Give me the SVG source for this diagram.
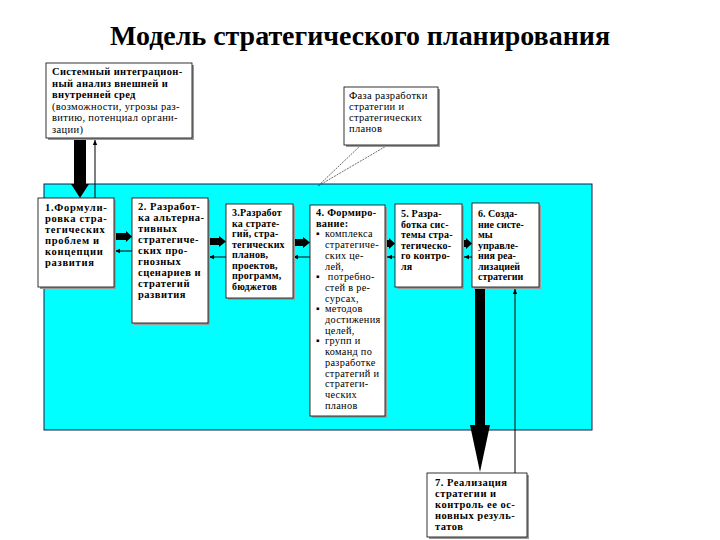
<svg xmlns="http://www.w3.org/2000/svg" width="720" height="540" viewBox="0 0 720 540">
<style>
.t{font-family:"Liberation Serif","DejaVu Serif",serif;font-size:10.5px;fill:#000}
.b{font-weight:bold}
.box{fill:#fff;stroke:#000;stroke-width:0.8}
.sh{fill:#9a9a9a}
.thick{fill:#000}
.thin{stroke:#000;stroke-width:1;fill:none}
.ttl{font-family:"Liberation Serif","DejaVu Serif",serif;font-size:27px;font-weight:bold}
</style>
<defs>
<marker id="ah" markerWidth="6" markerHeight="6" refX="5" refY="3" orient="auto" markerUnits="userSpaceOnUse">
<path d="M0,0.8 L5,3 L0,5.2 Z" fill="#000"/>
</marker>
</defs>
<rect width="720" height="540" fill="#fff"/>
<text class="ttl" x="360" y="45" text-anchor="middle" textLength="500" lengthAdjust="spacingAndGlyphs">Модель стратегического планирования</text>

<rect id="field" x="44" y="184" width="548" height="246" fill="#00FFFF" stroke="#1a1a4a" stroke-width="1"/>

<g id="connectors">
<rect class="thick" x="74" y="138" width="12" height="47"/>
<path class="thick" d="M71,184 L89,184 L80,198 Z"/>
<line class="thin" x1="95" y1="198" x2="95" y2="140" marker-end="url(#ah)"/>
<polyline points="361,145 318,186 388,145" fill="none" stroke="#444" stroke-width="0.8" stroke-dasharray="2,1"/>
<path class="thick" d="M113,233 L126,233 L126,231 L132,236.5 L126,242 L126,240 L113,240 Z"/>
<path class="thick" d="M208,238 L219,238 L219,236 L226,241.5 L219,247 L219,245 L208,245 Z"/>
<path class="thick" d="M292,239 L303,239 L303,237 L310,242.5 L303,248 L303,246 L292,246 Z"/>
<path class="thick" d="M386,240 L389,240 L389,238 L395,243.5 L389,249 L389,247 L386,247 Z"/>
<path class="thick" d="M463,240 L466,240 L466,238 L472,243.5 L466,249 L466,247 L463,247 Z"/>
<line class="thin" x1="132" y1="251" x2="115" y2="251" marker-end="url(#ah)"/>
<line class="thin" x1="226" y1="257" x2="209" y2="257" marker-end="url(#ah)"/>
<line class="thin" x1="310" y1="257" x2="293" y2="257" marker-end="url(#ah)"/>
<line class="thin" x1="395" y1="257" x2="387" y2="257" marker-end="url(#ah)"/>
<line class="thin" x1="472" y1="257" x2="464" y2="257" marker-end="url(#ah)"/>
<rect class="thick" x="475" y="287" width="10" height="139"/>
<path class="thick" d="M470,425 L490,425 L480,472 Z"/>
<line class="thin" x1="515" y1="473" x2="515" y2="289" marker-end="url(#ah)"/>
</g>

<g id="n0">
<rect class="sh" x="48" y="65" width="146" height="75"/>
<rect class="box" x="46" y="63" width="146" height="75"/>
<text class="t" style="font-size:10.5px;letter-spacing:0.35px"><tspan class="b" x="52" y="75">Системный  интеграцион-</tspan><tspan class="b" x="52" y="86.5">ный анализ  внешней и</tspan><tspan class="b" x="52" y="98">внутренней сред</tspan><tspan x="52" y="109.5">(возможности, угрозы раз-</tspan><tspan x="52" y="121">витию, потенциал органи-</tspan><tspan x="52" y="132.5">зации)</tspan></text>
</g>

<g id="callout">
<rect class="sh" x="346" y="89" width="94" height="58"/>
<rect class="box" x="344" y="87" width="94" height="58"/>
<text class="t" style="font-size:10.5px;letter-spacing:0.3px"><tspan x="349" y="99">Фаза разработки</tspan><tspan x="349" y="110">стратегии и</tspan><tspan x="349" y="121">стратегических</tspan><tspan x="349" y="132">планов</tspan></text>
</g>

<g id="n1">
<rect class="sh" x="40" y="200" width="76" height="89"/>
<rect class="box" x="38" y="198" width="76" height="89"/>
<text class="t b" style="font-size:10.5px;letter-spacing:0.7px"><tspan x="45" y="211">1.Формули-</tspan><tspan x="45" y="222">ровка стра-</tspan><tspan x="45" y="233">тегических</tspan><tspan x="45" y="244">проблем и</tspan><tspan x="45" y="255">концепции</tspan><tspan x="45" y="266">развития</tspan></text>
</g>

<g id="n2">
<rect class="sh" x="134" y="200" width="76" height="125"/>
<rect class="box" x="132" y="198" width="76" height="125"/>
<text class="t b" style="font-size:10.5px;letter-spacing:0.5px"><tspan x="138" y="210">2. Разработ-</tspan><tspan x="138" y="221">ка альтерна-</tspan><tspan x="138" y="232">тивных</tspan><tspan x="138" y="243">стратегиче-</tspan><tspan x="138" y="254">ских про-</tspan><tspan x="138" y="265">гнозных</tspan><tspan x="138" y="276">сценариев и</tspan><tspan x="138" y="287">стратегий</tspan><tspan x="138" y="298">развития</tspan></text>
</g>

<g id="n3">
<rect class="sh" x="228" y="206" width="67" height="94"/>
<rect class="box" x="226" y="204" width="67" height="94"/>
<text class="t b" style="font-size:10px;letter-spacing:0.2px"><tspan x="232" y="216">3.Разработ</tspan><tspan x="232" y="226.5">ка  страте-</tspan><tspan x="232" y="237">гий, стра-</tspan><tspan x="232" y="247.5">тегических</tspan><tspan x="232" y="258">планов,</tspan><tspan x="232" y="268.5">проектов,</tspan><tspan x="232" y="279">программ,</tspan><tspan x="232" y="289.5">бюджетов</tspan></text>
</g>

<g id="n4">
<rect class="sh" x="312" y="207" width="75" height="211"/>
<rect class="box" x="310" y="205" width="75" height="211"/>
<text class="t" style="font-size:10.3px;letter-spacing:0.3px"><tspan class="b" x="316" y="216">4. Формиро-</tspan><tspan class="b" x="316" y="226.7">вание:</tspan><tspan x="316" y="237.4">▪</tspan><tspan x="325" y="237.4">комплекса</tspan><tspan x="325" y="248.1">стратегиче-</tspan><tspan x="325" y="258.8">ских  це-</tspan><tspan x="325" y="269.5">лей,</tspan><tspan x="316" y="280.2">▪</tspan><tspan x="325" y="280.2"> потребно-</tspan><tspan x="325" y="290.9">стей в ре-</tspan><tspan x="325" y="301.6">сурсах,</tspan><tspan x="316" y="312.3">▪</tspan><tspan x="325" y="312.3">методов</tspan><tspan x="325" y="323">достижения</tspan><tspan x="325" y="333.7">целей,</tspan><tspan x="316" y="344.4">▪</tspan><tspan x="325" y="344.4">групп и</tspan><tspan x="325" y="355.1">команд по</tspan><tspan x="325" y="365.8">разработке</tspan><tspan x="325" y="376.5">стратегий и</tspan><tspan x="325" y="387.2">стратеги-</tspan><tspan x="325" y="397.9">ческих</tspan><tspan x="325" y="408.6">планов</tspan></text>
</g>

<g id="n5">
<rect class="sh" x="397" y="206" width="67" height="83"/>
<rect class="box" x="395" y="204" width="67" height="83"/>
<text class="t b" style="font-size:10px;letter-spacing:0.2px"><tspan x="401" y="217">5. Разра-</tspan><tspan x="401" y="227.6">ботка сис-</tspan><tspan x="401" y="238.2">темы стра-</tspan><tspan x="401" y="248.8">тегическо-</tspan><tspan x="401" y="259.4">го контро-</tspan><tspan x="401" y="270">ля</tspan></text>
</g>

<g id="n6">
<rect class="sh" x="474" y="205" width="67" height="84"/>
<rect class="box" x="472" y="203" width="67" height="84"/>
<text class="t b" style="font-size:10px"><tspan x="478" y="217">6. Созда-</tspan><tspan x="478" y="227.5">ние систе-</tspan><tspan x="478" y="238">мы</tspan><tspan x="478" y="248.5">управле-</tspan><tspan x="478" y="259">ния  реа-</tspan><tspan x="478" y="269.5">лизацией</tspan><tspan x="478" y="280">стратегии</tspan></text>
</g>

<g id="n7">
<rect class="sh" x="429" y="475" width="100" height="64"/>
<rect class="box" x="427" y="473" width="100" height="64"/>
<text class="t b" style="font-size:10.5px;letter-spacing:0.5px"><tspan x="435" y="486">7. Реализация</tspan><tspan x="435" y="497">стратегии и</tspan><tspan x="435" y="508">контроль ее ос-</tspan><tspan x="435" y="519">новных резуль-</tspan><tspan x="435" y="530">татов</tspan></text>
</g>
</svg>
